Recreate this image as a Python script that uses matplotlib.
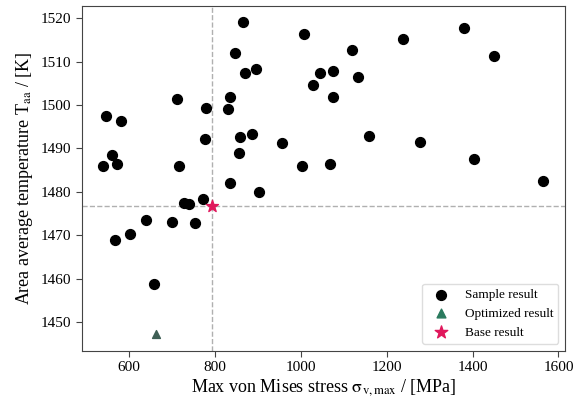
import numpy as np
import matplotlib.pyplot as plt

plt.rcParams['font.family'] = ['Liberation Serif', 'DejaVu Serif']
plt.rcParams['mathtext.fontset'] = 'stix'

# sample results: max von Mises stress [MPa] and area average temperature [K]
stress = [865, 1008, 846, 871, 896, 1029, 712, 834, 778, 831,
          546, 581, 886, 859, 777, 956, 857, 560, 540, 572,
          717, 1002, 836, 903, 771, 728, 739, 639, 700, 754,
          601, 566, 657, 1381, 1238, 1449, 1119, 1044, 1074, 1132,
          1074, 1159, 1277, 1404, 1068, 1565]
temp = [1519.2, 1516.3, 1511.9, 1507.3, 1508.2, 1504.5, 1501.4, 1501.8, 1499.4, 1499.0,
        1497.4, 1496.4, 1493.4, 1492.7, 1492.2, 1491.3, 1489.0, 1488.4, 1486.0, 1486.4,
        1486.0, 1486.0, 1482.1, 1479.9, 1478.4, 1477.4, 1477.2, 1473.5, 1473.1, 1472.8,
        1470.3, 1468.9, 1458.8, 1517.8, 1515.2, 1511.4, 1512.6, 1507.4, 1507.9, 1506.5,
        1501.8, 1492.9, 1491.5, 1487.6, 1486.4, 1482.4]

opt_stress, opt_temp = 662, 1447.3
base_stress, base_temp = 793, 1476.8

fig, ax = plt.subplots(figsize=(5.77, 4.03), dpi=100)
fig.subplots_adjust(left=0.142, right=0.979, top=0.986, bottom=0.130)

# reference lines through the base design
ax.axvline(base_stress, color='#b0b0b0', ls='--', lw=1.0, zorder=1)
ax.axhline(base_temp, color='#b0b0b0', ls='--', lw=1.0, zorder=1)

ax.scatter(stress, temp, s=50, color='black', label='Sample result', zorder=3)
ax.scatter(opt_stress, opt_temp, s=32, marker='^', color='#3f5f55', zorder=3)
ax.scatter(base_stress, base_temp, s=80, marker='*', color='#e0185c', label='Base result', zorder=4)

# legend entries
h_sample = ax.scatter([], [], s=50, color='black')
h_opt = ax.scatter([], [], s=40, marker='^', color='#2a7a5e')
h_base = ax.scatter([], [], s=90, marker='*', color='#e0185c')

ax.set_xlim(490, 1615)
ax.set_ylim(1443.4, 1522.9)
ax.set_xticks([600, 800, 1000, 1200, 1400, 1600])
ax.set_yticks(np.arange(1450, 1521, 10))
ax.tick_params(labelsize=11, length=4, color='#444444')
for sp in ax.spines.values():
    sp.set_color('#444444')

ax.set_xlabel(r'Max von Mises stress $\mathrm{\sigma}_{\mathrm{v,max}}$ / [MPa]', fontsize=13, labelpad=2)
ax.set_ylabel(r'Area average temperature T$_{\mathrm{aa}}$ / [K]', fontsize=13, labelpad=4)

leg = ax.legend([h_sample, h_opt, h_base], ['Sample result', 'Optimized result', 'Base result'],
                loc='lower right', fontsize=9.5, framealpha=1, handletextpad=0.8)
leg.get_frame().set_edgecolor('#dddddd')

fig.savefig('out.png', dpi=100)
